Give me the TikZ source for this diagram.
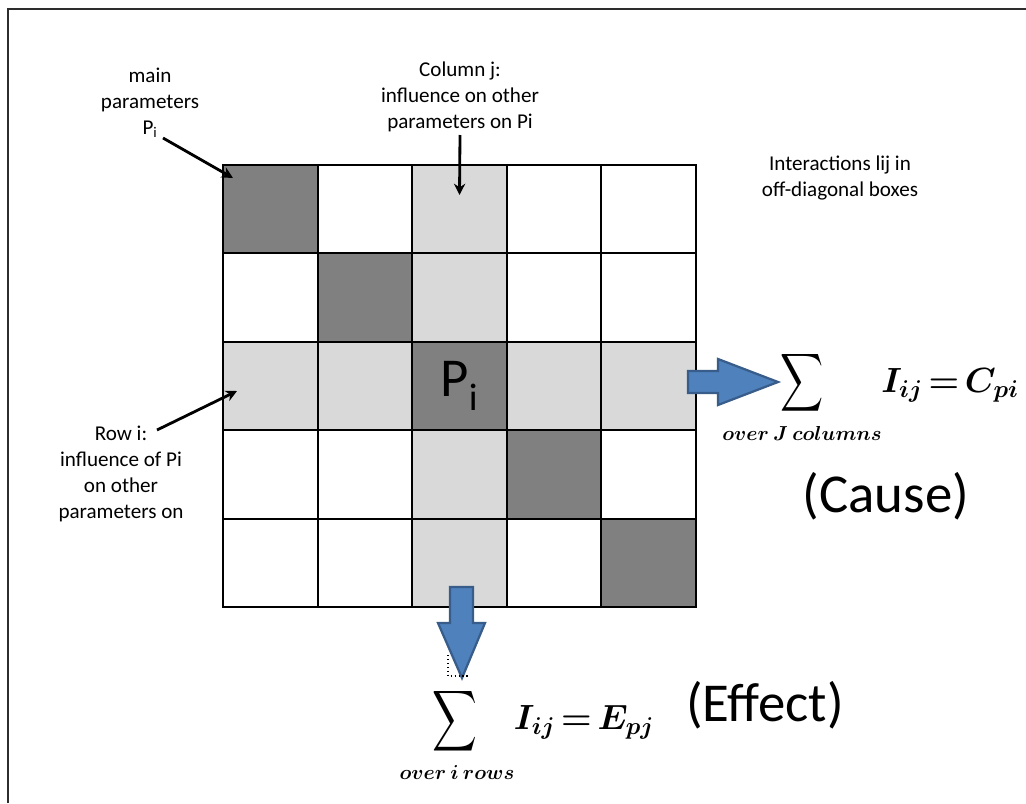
\documentclass[tikz,border=0pt]{standalone}
\usepackage{fontspec}
\setmainfont{Carlito}
\usepackage{bm}
\usetikzlibrary{arrows.meta,positioning,calc}
\definecolor{celldark}{RGB}{128,128,128}
\definecolor{celllight}{RGB}{217,217,217}
\definecolor{sumblue}{RGB}{79,129,189}
\definecolor{sumedge}{RGB}{56,93,138}
\definecolor{framegray}{RGB}{45,45,45}
\tikzset{
  cell/.style={draw=black, line width=1.3pt, minimum width=2.365cm, minimum height=2.21cm,
               inner sep=0pt, outer sep=0pt, font=\fontsize{38}{44}\selectfont},
  lbl/.style={align=center, inner sep=0pt, font=\fontsize{15}{18.5}\selectfont},
  bigtxt/.style={inner sep=0pt, font=\fontsize{39}{45}\selectfont},
  limtxt/.style={inner sep=0pt, font=\fontsize{13.5}{16}\selectfont},
  eqtxt/.style={inner sep=0pt, font=\fontsize{24}{28}\selectfont},
  pointer/.style={-{Stealth[length=8pt,width=8pt]}, line width=2pt},
  blockarrow/.style={fill=sumblue, draw=sumedge, line width=1.6pt, line join=miter},
}

\begin{document}
\begin{tikzpicture}[x=0.025cm, y=-0.025cm]
  \useasboundingbox (0,0) rectangle (1026,803);
  \draw[framegray, line width=1.5pt] (8,803) -- (8,9) -- (1026,9);

  % 5x5 matrix
  \foreach \r in {1,...,5}{
    \foreach \c in {1,...,5}{
      \ifnum\r=\c \def\cellfill{celldark}\else
        \ifnum\r=3 \def\cellfill{celllight}\else
          \ifnum\c=3 \def\cellfill{celllight}\else \def\cellfill{white}\fi
        \fi
      \fi
      \node[cell, fill=\cellfill] (c\r\c) at ({223+(\c-0.5)*94.6},{165+(\r-0.5)*88.4}) {};
    }
  }
  \node[bigtxt] (pcenter) at (c33) {P\textsubscript{i}};

  % labels
  \node[lbl] (mainlbl) at (150,103) {main\\parameters\\P\textsubscript{i}};
  \node[lbl] (collbl) at (460,97) {Column j:\\influence on other\\parameters on Pi};
  \node[lbl] (rowlbl) at (121,474) {Row i:\\influence of Pi\\on other\\parameters on};
  \node[lbl] (intlbl) at (840,178) {Interactions lij in\\off-diagonal boxes};

  \coordinate (maintail) at (163,138);
  \coordinate (maintip) at ($(c11.north west)+(10,13)$);
  \coordinate (coltail) at (460,135);
  \coordinate (coltip) at ($(c13.north)+(0,30)$);
  \coordinate (rowtail) at (157,430);
  \coordinate (rowtip) at ($(c31.west)+(14,5)$);
  \draw[pointer] (maintail) -- (maintip);
  \draw[pointer] (coltail) -- (coltip);
  \draw[pointer] (rowtail) -- (rowtip);

  % sums
  \draw[blockarrow] (688,371) -- (718,371) -- (718,359) -- (778,382) -- (718,405)
    -- (718,393) -- (688,393) -- cycle;
  \draw[blockarrow] (450,587) -- (450,623) -- (438,623) -- (462,678) -- (485,623)
    -- (473,623) -- (473,587) -- cycle;
  \draw[dotted, line width=0.8pt] (448,655) -- (448,676) -- (468,676);

  \node[inner sep=0pt] (sumright) at (802,383) {\resizebox*{1.08cm}{1.62cm}{$\displaystyle\sum$}};
  \node[limtxt] (limright) at (802,433) {$\bm{over\ J\ columns}$};
  \node[eqtxt] (eqright) at (950,385) {$\bm{I_{ij}\,{=}\,C_{pi}}$};
  \node[bigtxt] (cause) at (886,496) {(Cause)};

  \node[inner sep=0pt] (sumbottom) at (455,721) {\resizebox*{1.12cm}{1.7cm}{$\displaystyle\sum$}};
  \node[limtxt] (limbottom) at (457,772) {$\bm{over\ i\ rows}$};
  \node[eqtxt] (eqbottom) at (584,722) {$\bm{I_{ij}\,{=}\,E_{pj}}$};
  \node[bigtxt] (effect) at (765,705) {(Effect)};
\end{tikzpicture}
\end{document}
